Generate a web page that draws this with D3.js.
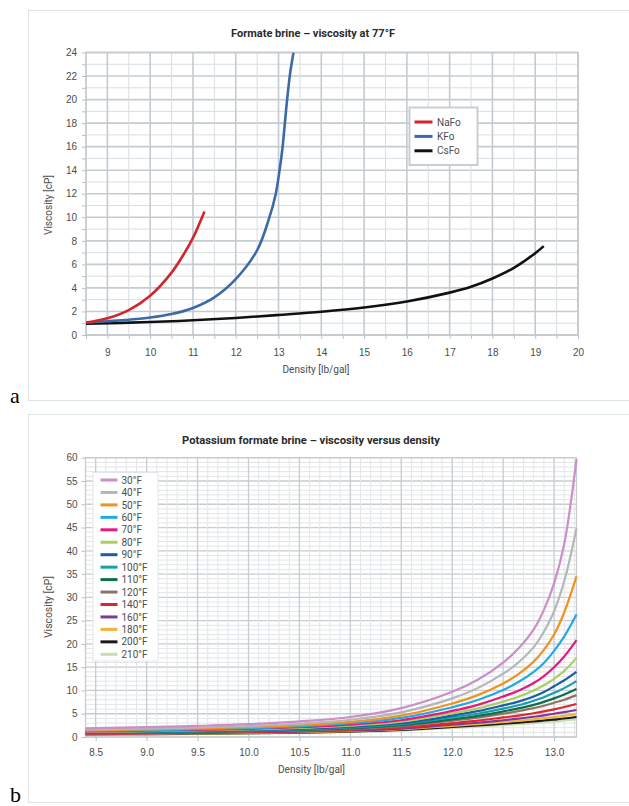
<!DOCTYPE html>
<html>
<head>
<meta charset="utf-8">
<script src="https://cdn.jsdelivr.net/npm/d3@7/dist/d3.min.js"></script>
<style>
  html, body { margin: 0; padding: 0; background: #fff; }
  svg { display: block; font-family: Roboto, "Noto Sans", sans-serif; }
</style>
</head>
<body>
<svg id="chart" width="629" height="806"></svg>
<script>
// ---------- Panel a: formate brines, viscosity at 77°F ----------
const nafoDensity = [8.5, 9.0, 9.5, 10.0, 10.5, 10.8, 11.0, 11.27];
const nafoViscosity = [1.05, 1.42, 2.12, 3.34, 5.3, 6.95, 8.25, 10.5];

const kfoDensity = [8.5, 9.0, 9.5, 10.0, 10.5, 11.0, 11.5, 12.0, 12.5, 12.77, 12.93, 13.02, 13.09, 13.19, 13.27, 13.35];
const kfoViscosity = [1.05, 1.17, 1.3, 1.48, 1.78, 2.3, 3.2, 4.75, 7.2, 9.8, 11.9, 13.9, 15.8, 19.6, 22.2, 24];

const csfoDensity = [8.5, 10, 11, 12, 13, 14, 15, 16, 17, 17.5, 18, 18.5, 19, 19.2];
const csfoViscosity = [0.95, 1.1, 1.25, 1.45, 1.7, 1.97, 2.33, 2.85, 3.6, 4.1, 4.8, 5.7, 6.95, 7.55];

const brineNames = ["NaFo", "KFo", "CsFo"];
const brineColors = ["#d1262b", "#3b6aa6", "#111111"];

const densityTicksA = [9, 10, 11, 12, 13, 14, 15, 16, 17, 18, 19, 20];
const viscosityTicksA = [0, 2, 4, 6, 8, 10, 12, 14, 16, 18, 20, 22, 24];

// ---------- Panel b: potassium formate, viscosity vs density ----------
const kfoGridDensity = [8.4, 9.0, 9.5, 10.0, 10.5, 11.0, 11.5, 12.0, 12.25, 12.5, 12.65, 12.8, 12.9, 13.0, 13.1, 13.22];
const visc30F  = [1.87, 2.1, 2.38, 2.75, 3.35, 4.3, 6.2, 9.7, 12.3, 16.0, 19.0, 23.1, 27.3, 33.0, 41.5, 59.7];
const visc40F  = [1.6, 1.8, 2.04, 2.35, 2.85, 3.7, 5.3, 8.3, 10.5, 13.6, 16.0, 19.3, 22.6, 27.0, 33.5, 44.8];
const visc50F  = [1.45, 1.62, 1.84, 2.1, 2.55, 3.25, 4.6, 7.2, 9.0, 11.5, 13.5, 16.2, 18.7, 22.0, 26.8, 34.5];
const visc60F  = [1.3, 1.47, 1.67, 1.92, 2.3, 2.95, 4.1, 6.4, 7.95, 10.1, 11.8, 14.0, 15.9, 18.5, 21.6, 26.3];
const visc70F  = [1.2, 1.35, 1.54, 1.76, 2.1, 2.65, 3.6, 5.6, 6.9, 8.7, 9.95, 11.6, 13.1, 15.0, 17.3, 20.8];
const visc80F  = [1.1, 1.24, 1.42, 1.62, 1.93, 2.42, 3.3, 5.1, 6.15, 7.6, 8.65, 10.0, 11.1, 12.5, 14.2, 17.0];
const visc90F  = [1.0, 1.14, 1.3, 1.49, 1.77, 2.2, 2.95, 4.6, 5.55, 6.8, 7.6, 8.7, 9.65, 10.9, 12.2, 14.0];
const visc100F = [0.95, 1.07, 1.22, 1.39, 1.64, 2.05, 2.75, 4.2, 5.0, 6.1, 6.83, 7.8, 8.55, 9.5, 10.5, 12.0];
const visc110F = [0.9, 1.0, 1.14, 1.3, 1.53, 1.9, 2.55, 3.8, 4.53, 5.5, 6.15, 6.9, 7.55, 8.3, 9.15, 10.3];
const visc120F = [0.85, 0.95, 1.08, 1.22, 1.43, 1.76, 2.35, 3.5, 4.15, 5.0, 5.55, 6.2, 6.7, 7.35, 8.0, 9.0];
const visc140F = [0.75, 0.84, 0.95, 1.08, 1.27, 1.55, 2.05, 3.0, 3.52, 4.2, 4.6, 5.1, 5.5, 5.95, 6.45, 7.1];
const visc160F = [0.7, 0.78, 0.88, 0.99, 1.15, 1.4, 1.82, 2.65, 3.06, 3.6, 3.95, 4.35, 4.65, 5.0, 5.35, 5.8];
const visc180F = [0.6, 0.69, 0.78, 0.89, 1.04, 1.27, 1.66, 2.4, 2.76, 3.2, 3.48, 3.8, 4.04, 4.3, 4.55, 4.9];
const visc200F = [0.55, 0.63, 0.71, 0.81, 0.95, 1.16, 1.5, 2.15, 2.47, 2.85, 3.09, 3.35, 3.54, 3.75, 3.97, 4.3];
const visc210F = [0.5, 0.57, 0.65, 0.74, 0.87, 1.07, 1.38, 1.95, 2.23, 2.55, 2.77, 3.0, 3.17, 3.35, 3.55, 3.8];

const tempLabels = ["30°F", "40°F", "50°F", "60°F", "70°F", "80°F", "90°F", "100°F",
                    "110°F", "120°F", "140°F", "160°F", "180°F", "200°F", "210°F"];
const tempColors = ["#c98fc6", "#b5b6ba", "#f0921f", "#21a9e6", "#e5197f", "#a9d05c",
                    "#1b5da7", "#16a0aa", "#0f6d47", "#8c7467", "#e3242b", "#7b3a9c",
                    "#f3b23c", "#1a1a1a", "#c9ddb2"];
const tempSeries = [visc30F, visc40F, visc50F, visc60F, visc70F, visc80F, visc90F, visc100F,
                    visc110F, visc120F, visc140F, visc160F, visc180F, visc200F, visc210F];

const densityTicksB = [8.5, 9.0, 9.5, 10.0, 10.5, 11.0, 11.5, 12.0, 12.5, 13.0];
const viscosityTicksB = [0, 5, 10, 15, 20, 25, 30, 35, 40, 45, 50, 55, 60];

// ---------- drawing ----------
const svg = d3.select("#chart");
const textColor = "#4d4d4d";
const smooth = d3.curveCatmullRom.alpha(0.5);

function frame(y0, y1) {
  svg.append("rect")
    .attr("x", 28.5).attr("y", y0 + 0.5)
    .attr("width", 640).attr("height", y1 - y0)
    .attr("fill", "none").attr("stroke", "#dde2e5").attr("stroke-width", 1);
}

function grid(g, x, y, xs, ys, isMajorX, isMajorY, minorColor, majorColor, minorW, majorW) {
  const [x0, x1] = x.range();
  const [y0, y1] = y.range();
  // minor first, major on top
  const vx = xs.map(v => ({ v, major: isMajorX(v) })).sort((a, b) => a.major - b.major);
  const vy = ys.map(v => ({ v, major: isMajorY(v) })).sort((a, b) => a.major - b.major);
  g.append("g").selectAll("line").data(vy).join("line")
    .attr("x1", x0).attr("x2", x1)
    .attr("y1", d => y(d.v)).attr("y2", d => y(d.v))
    .attr("stroke", d => d.major ? majorColor : minorColor)
    .attr("stroke-width", d => d.major ? majorW : minorW);
  g.append("g").selectAll("line").data(vx).join("line")
    .attr("y1", y0).attr("y2", y1)
    .attr("x1", d => x(d.v)).attr("x2", d => x(d.v))
    .attr("stroke", d => d.major ? majorColor : minorColor)
    .attr("stroke-width", d => d.major ? majorW : minorW);
  g.append("rect")
    .attr("x", x0).attr("y", y1).attr("width", x1 - x0).attr("height", y0 - y1)
    .attr("fill", "none").attr("stroke", majorColor).attr("stroke-width", majorW);
}

function styleAxis(g) {
  g.select(".domain").remove();
  g.selectAll(".tick line").attr("stroke", "#b9c1c6").attr("stroke-width", 1);
  g.selectAll(".tick text").attr("fill", textColor).attr("font-size", 10);
}

function near(v, step) { return Math.abs(v / step - Math.round(v / step)) < 1e-6; }

// ===== Panel a =====
frame(10, 400);
{
  const x = d3.scaleLinear().domain([8.5, 20]).range([86, 578]);
  const y = d3.scaleLinear().domain([0, 24]).range([335, 52.5]);
  const g = svg.append("g");

  grid(g, x, y,
       d3.range(8.5, 20.001, 0.5), d3.range(0, 24.001, 1),
       v => near(v, 1), v => near(v, 2),
       "#d8dee1", "#c3cbd0", 1, 1.6);

  g.append("g").attr("transform", "translate(0,335)")
    .call(d3.axisBottom(x).tickValues(d3.range(8.5, 20.001, 0.5))
      .tickFormat(v => densityTicksA.includes(v) ? d3.format("d")(v) : "")
      .tickSize(4).tickPadding(9.5))
    .call(styleAxis);
  g.append("g").attr("transform", "translate(86,0)")
    .call(d3.axisLeft(y).tickValues(d3.range(0, 24.001, 1))
      .tickFormat(v => viscosityTicksA.includes(v) ? d3.format("d")(v) : "")
      .tickSize(4).tickPadding(5))
    .call(styleAxis);

  svg.append("defs").append("clipPath").attr("id", "clipA")
    .append("rect").attr("x", 86).attr("y", 52.5).attr("width", 492).attr("height", 282.5);

  const line = d3.line().x(d => x(d[0])).y(d => y(d[1])).curve(smooth);
  const brines = [
    d3.zip(nafoDensity, nafoViscosity),
    d3.zip(kfoDensity, kfoViscosity),
    d3.zip(csfoDensity, csfoViscosity)
  ];
  const lines = g.append("g").attr("clip-path", "url(#clipA)");
  // CsFo first, then KFo, then NaFo on top
  [2, 1, 0].forEach(i => {
    lines.append("path").datum(brines[i])
      .attr("d", line).attr("fill", "none")
      .attr("stroke", brineColors[i]).attr("stroke-width", 2.6)
      .attr("stroke-linecap", "butt");
  });

  // title and axis titles
  svg.append("text").attr("x", 313).attr("y", 37).attr("text-anchor", "middle")
    .attr("font-size", 11).attr("font-weight", 700).attr("fill", "#2b2b2b")
    .attr("textLength", 164).attr("lengthAdjust", "spacingAndGlyphs")
    .text("Formate brine – viscosity at 77°F");
  svg.append("text").attr("x", 316).attr("y", 373).attr("text-anchor", "middle")
    .attr("font-size", 10).attr("fill", textColor)
    .attr("textLength", 67).attr("lengthAdjust", "spacingAndGlyphs")
    .text("Density [lb/gal]");
  svg.append("text").attr("transform", "translate(52,205) rotate(-90)")
    .attr("text-anchor", "middle").attr("font-size", 10).attr("fill", textColor)
    .attr("textLength", 60).attr("lengthAdjust", "spacingAndGlyphs")
    .text("Viscosity [cP]");

  // legend
  const lg = svg.append("g");
  lg.append("rect").attr("x", 409.5).attr("y", 107.5).attr("width", 68).attr("height", 57.5)
    .attr("fill", "#fff").attr("stroke", "#c9ced2").attr("stroke-width", 2);
  brineNames.forEach((name, i) => {
    const yy = 122 + i * 14.4;
    lg.append("line").attr("x1", 414.5).attr("x2", 432.5).attr("y1", yy).attr("y2", yy)
      .attr("stroke", brineColors[i]).attr("stroke-width", 3);
    lg.append("text").attr("x", 437).attr("y", yy + 3.6)
      .attr("font-size", 10).attr("fill", textColor).text(name);
  });
}

// ===== Panel b =====
frame(414, 802);
{
  const x = d3.scaleLinear().domain([8.4, 13.22]).range([85.5, 576.5]);
  const y = d3.scaleLinear().domain([0, 60]).range([737, 457.7]);
  const g = svg.append("g");

  grid(g, x, y,
       d3.range(84, 132.5, 1).map(v => v / 10), d3.range(0, 60.001, 1),
       v => near(v, 0.5), v => near(v, 5),
       "#e2e6e9", "#c6ccd1", 1, 1.3);

  g.append("g").attr("transform", "translate(0,737)")
    .call(d3.axisBottom(x).tickValues(densityTicksB)
      .tickFormat(d3.format(".1f")).tickSize(4).tickPadding(7.5))
    .call(styleAxis);
  g.append("g").attr("transform", "translate(85.5,0)")
    .call(d3.axisLeft(y).tickValues(viscosityTicksB)
      .tickFormat(d3.format("d")).tickSize(4).tickPadding(4))
    .call(styleAxis);

  const line = d3.line().x(d => x(d[0])).y(d => y(d[1])).curve(smooth);
  const series = tempSeries.map((vals, i) => ({
    label: tempLabels[i], color: tempColors[i], pts: d3.zip(kfoGridDensity, vals)
  }));
  // hottest drawn first so the cooler curves sit above
  g.append("g").selectAll("path").data(series.slice().reverse()).join("path")
    .attr("d", d => line(d.pts)).attr("fill", "none")
    .attr("stroke", d => d.color).attr("stroke-width", 2.2);

  svg.append("text").attr("x", 311).attr("y", 444).attr("text-anchor", "middle")
    .attr("font-size", 11).attr("font-weight", 700).attr("fill", "#2b2b2b")
    .attr("textLength", 258).attr("lengthAdjust", "spacingAndGlyphs")
    .text("Potassium formate brine – viscosity versus density");
  svg.append("text").attr("x", 311.5).attr("y", 773).attr("text-anchor", "middle")
    .attr("font-size", 10).attr("fill", textColor)
    .attr("textLength", 67).attr("lengthAdjust", "spacingAndGlyphs")
    .text("Density [lb/gal]");
  svg.append("text").attr("transform", "translate(52,607) rotate(-90)")
    .attr("text-anchor", "middle").attr("font-size", 10).attr("fill", textColor)
    .attr("textLength", 62).attr("lengthAdjust", "spacingAndGlyphs")
    .text("Viscosity [cP]");

  const lg = svg.append("g");
  lg.append("rect").attr("x", 93).attr("y", 472.5).attr("width", 65).attr("height", 188.5)
    .attr("fill", "#fff").attr("stroke", "#e3e6e8").attr("stroke-width", 1);
  series.forEach((s, i) => {
    const yy = 480 + i * 12.45;
    lg.append("line").attr("x1", 100.5).attr("x2", 117.5).attr("y1", yy).attr("y2", yy)
      .attr("stroke", s.color).attr("stroke-width", 3);
    lg.append("text").attr("x", 121.5).attr("y", yy + 3.6)
      .attr("font-size", 10).attr("fill", textColor).text(s.label);
  });
}

// panel letters
svg.append("text").attr("x", 10).attr("y", 403)
  .attr("font-family", "'Liberation Serif', 'DejaVu Serif', serif")
  .attr("font-size", 22).attr("fill", "#000").text("a");
svg.append("text").attr("x", 10).attr("y", 802)
  .attr("font-family", "'Liberation Serif', 'DejaVu Serif', serif")
  .attr("font-size", 22).attr("fill", "#000").text("b");
</script>
</body>
</html>
